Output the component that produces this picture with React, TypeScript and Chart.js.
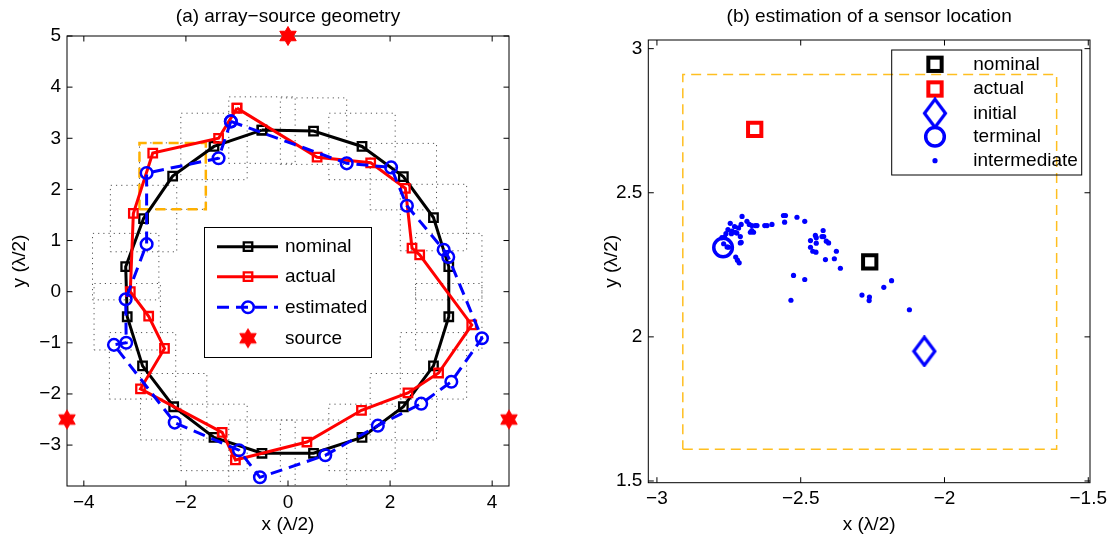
import React, { useEffect, useRef } from 'react';
import { Chart, registerables } from 'chart.js';
Chart.register(...registerables);

const FONT = '"Liberation Sans", Arial, Helvetica, sans-serif';
const FS = 19;

// ---------------- panel (a): array-source geometry ----------------
const titleA = '(a) array−source geometry';
const nominalX = [-0.51, 0.50, 1.45, 2.26, 2.85, 3.15, 3.15, 2.85, 2.26, 1.45, 0.50, -0.51, -1.45, -2.24, -2.85, -3.15, -3.18, -2.83, -2.26, -1.45];
const nominalY = [3.16, 3.14, 2.84, 2.25, 1.45, 0.49, -0.49, -1.45, -2.25, -2.85, -3.16, -3.16, -2.85, -2.25, -1.45, -0.49, 0.49, 1.43, 2.26, 2.84];
const actualX = [-1.00, 0.57, 1.62, 2.30, 2.43, 2.58, 3.60, 2.95, 2.35, 1.44, 0.37, -1.03, -1.29, -2.89, -2.42, -2.73, -3.09, -3.03, -2.65, -1.36];
const actualY = [3.59, 2.63, 2.52, 2.02, 0.85, 0.72, -0.65, -1.59, -1.98, -2.32, -2.94, -3.29, -2.75, -1.90, -1.11, -0.48, 0.00, 1.53, 2.71, 3.00];
const estX = [-1.12, 1.15, 2.02, 2.33, 3.05, 3.14, 3.80, 3.20, 2.61, 1.76, 0.73, -0.55, -0.96, -2.22, -3.41, -3.17, -3.18, -2.77, -2.77, -1.36];
const estY = [3.33, 2.51, 2.43, 1.68, 0.82, 0.68, -0.91, -1.76, -2.19, -2.62, -3.20, -3.63, -3.10, -2.56, -1.04, -1.00, -0.15, 0.93, 2.32, 2.61];
const sourceX = [0, -4.33, 4.33];
const sourceY = [5, -2.5, -2.5];
const searchHalfWidth = 0.65;
const highlightIndex = 18;
const xTicksA = [-4, -2, 0, 2, 4];
const yTicksA = [-3, -2, -1, 0, 1, 2, 3, 4, 5];
const xRangeA = [-4.33, 4.33];
const yRangeA = [-3.8, 5];
const legendA = ['nominal', 'actual', 'estimated', 'source'];

// ---------------- panel (b): estimation of a sensor location ----------------
const titleB = '(b) estimation of a sensor location';
const bNominalX = [-2.26];
const bNominalY = [2.26];
const bActualX = [-2.66];
const bActualY = [2.72];
const bInitialX = [-2.07];
const bInitialY = [1.95];
const bTerminalX = [-2.77];
const bTerminalY = [2.31];
const interX = [-2.704, -2.745, -2.730, -2.716, -2.707, -2.687, -2.679, -2.670, -2.658, -2.652, -2.625, -2.617, -2.600, -2.560, -2.553, -2.556, -2.513, -2.486, -2.753, -2.760, -2.765, -2.741, -2.722, -2.710, -2.707, -2.670, -2.664, -2.768, -2.756, -2.726, -2.720, -2.714, -2.774, -2.751, -2.739, -2.728, -2.710, -2.675,
  -2.422, -2.449, -2.446, -2.426, -2.420, -2.466, -2.446, -2.411, -2.403, -2.466, -2.458, -2.447, -2.376, -2.414, -2.383, -2.362, -2.525, -2.486, -2.534, -2.287, -2.261, -2.262, -2.211, -2.184, -2.122];
const interY = [2.418, 2.394, 2.383, 2.378, 2.390, 2.401, 2.390, 2.386, 2.386, 2.386, 2.386, 2.386, 2.390, 2.421, 2.421, 2.398, 2.415, 2.401, 2.372, 2.358, 2.346, 2.358, 2.360, 2.348, 2.328, 2.369, 2.363, 2.323, 2.312, 2.277, 2.266, 2.257, 2.344, 2.311, 2.367, 2.363, 2.326, 2.363,
  2.369, 2.352, 2.344, 2.348, 2.348, 2.334, 2.325, 2.332, 2.326, 2.311, 2.297, 2.294, 2.297, 2.268, 2.271, 2.238, 2.213, 2.199, 2.127, 2.145, 2.138, 2.126, 2.172, 2.195, 2.094];
const xTicksB = [-3, -2.5, -2, -1.5];
const yTicksB = [1.5, 2, 2.5, 3];
const xRangeB = [-3.03, -1.494];
const yRangeB = [1.494, 3.03];
const legendB = ['nominal', 'actual', 'initial', 'terminal', 'intermediate'];

const xAxisLabel = 'x (λ/2)';
const yAxisLabel = 'y (λ/2)';

const BLUE = '#0000ff';
const RED = '#ff0000';
const ORANGE = '#ffb000';
const ORANGE_B = '#ffbf20';

// ---------------- helpers ----------------
const pts = (xs: number[], ys: number[]) => xs.map((x, i) => ({ x, y: ys[i] }));
const closed = (xs: number[], ys: number[]) => pts(xs.concat(xs[0]), ys.concat(ys[0]));
const boxAround = (cx: number, cy: number, h: number) => [
  { x: cx - h, y: cy - h }, { x: cx + h, y: cy - h }, { x: cx + h, y: cy + h }, { x: cx - h, y: cy + h }, { x: cx - h, y: cy - h },
];
const fmt = (v: any) => String(v).replace('-', '−');

function makeStar() {
  const c = document.createElement('canvas');
  c.width = 22; c.height = 22;
  const g = c.getContext('2d')!;
  const R = 9.5, r = R / Math.sqrt(3);
  g.beginPath();
  for (let i = 0; i < 12; i++) {
    const a = -Math.PI / 2 + (i * Math.PI) / 6;
    const rr = i % 2 === 0 ? R : r;
    const px = 11 + rr * Math.cos(a), py = 11 + rr * Math.sin(a);
    if (i === 0) g.moveTo(px, py); else g.lineTo(px, py);
  }
  g.closePath();
  g.fillStyle = RED; g.fill();
  g.strokeStyle = RED; g.lineWidth = 1; g.stroke();
  return c;
}

function makeDiamond() {
  const c = document.createElement('canvas');
  c.width = 26; c.height = 32;
  const g = c.getContext('2d')!;
  g.beginPath();
  g.moveTo(13, 2); g.lineTo(23.5, 16); g.lineTo(13, 30); g.lineTo(2.5, 16); g.closePath();
  g.strokeStyle = BLUE; g.lineWidth = 3.2; g.lineJoin = 'miter'; g.stroke();
  return c;
}

function scaleOpts(xr: number[], yr: number[], xt: number[], yt: number[], yWidth: number, xHeight: number) {
  const tickFont = { family: FONT, size: FS };
  return {
    x: {
      type: 'linear', min: xr[0], max: xr[1],
      grid: { display: false, drawTicks: false }, border: { display: false },
      afterBuildTicks: (s: any) => { s.ticks = xt.map((v) => ({ value: v })); },
      afterFit: (s: any) => { s.height = xHeight; },
      ticks: { font: tickFont, color: '#000', padding: 5, maxRotation: 0, autoSkip: false, callback: (v: any) => fmt(v) },
    },
    y: {
      type: 'linear', min: yr[0], max: yr[1],
      grid: { display: false, drawTicks: false }, border: { display: false },
      afterBuildTicks: (s: any) => { s.ticks = yt.map((v) => ({ value: v })); },
      afterFit: (s: any) => { s.width = yWidth; },
      ticks: { font: tickFont, color: '#000', padding: 6, autoSkip: false, callback: (v: any) => fmt(v) },
    },
  };
}

function decor(title: string, yLabelX: number, drawLegend: (ctx: CanvasRenderingContext2D) => void) {
  return {
    id: 'decor',
    beforeDatasetsDraw(chart: any) {
      const ctx = chart.ctx;
      const { left, right, top, bottom } = chart.chartArea;
      const xs = chart.scales.x, ys = chart.scales.y;
      ctx.save();
      ctx.strokeStyle = '#000';
      ctx.lineWidth = 1;
      ctx.strokeRect(left, top, right - left, bottom - top);
      const tl = 5.5;
      ctx.beginPath();
      xs.ticks.forEach((t: any) => {
        const p = xs.getPixelForValue(t.value);
        ctx.moveTo(p, bottom); ctx.lineTo(p, bottom - tl);
        ctx.moveTo(p, top); ctx.lineTo(p, top + tl);
      });
      ys.ticks.forEach((t: any) => {
        const p = ys.getPixelForValue(t.value);
        ctx.moveTo(left, p); ctx.lineTo(left + tl, p);
        ctx.moveTo(right, p); ctx.lineTo(right - tl, p);
      });
      ctx.stroke();
      ctx.restore();
    },
    afterDraw(chart: any) {
      const ctx = chart.ctx;
      const { left, right, top, bottom } = chart.chartArea;
      ctx.save();
      ctx.fillStyle = '#000';
      ctx.font = `${FS}px ${FONT}`;
      ctx.textAlign = 'center';
      ctx.textBaseline = 'middle';
      ctx.fillText(title, (left + right) / 2, 17);
      ctx.fillText(xAxisLabel, (left + right) / 2, 525);
      ctx.translate(yLabelX, (top + bottom) / 2);
      ctx.rotate(-Math.PI / 2);
      ctx.fillText(yAxisLabel, 0, 0);
      ctx.restore();
      ctx.save();
      drawLegend(ctx);
      ctx.restore();
    },
  };
}

function legendText(ctx: CanvasRenderingContext2D, s: string, x: number, y: number) {
  ctx.fillStyle = '#000';
  ctx.font = `${FS}px ${FONT}`;
  ctx.textAlign = 'left';
  ctx.textBaseline = 'middle';
  ctx.fillText(s, x, y);
}

function configA(star: HTMLCanvasElement) {
  const rects = nominalX.map((cx, i) => ({
    data: boxAround(cx, nominalY[i], searchHalfWidth),
    showLine: true, borderColor: '#555', borderWidth: 1, borderDash: [1.2, 4], pointRadius: 0, order: 20,
  }));
  const datasets: any[] = [
    ...rects,
    {
      data: boxAround(nominalX[highlightIndex], nominalY[highlightIndex], searchHalfWidth),
      showLine: true, borderColor: ORANGE, borderWidth: 2.5, borderDash: [10, 6], pointRadius: 0, order: 10,
    },
    {
      label: legendA[0], data: closed(nominalX, nominalY), showLine: true, borderColor: '#000', borderWidth: 3,
      pointStyle: 'rect', pointRadius: 6, pointBorderWidth: 2.3, pointBorderColor: '#000', pointBackgroundColor: 'rgba(0,0,0,0)', order: 4,
    },
    {
      label: legendA[1], data: closed(actualX, actualY), showLine: true, borderColor: RED, borderWidth: 3,
      pointStyle: 'rect', pointRadius: 6, pointBorderWidth: 2.3, pointBorderColor: RED, pointBackgroundColor: 'rgba(0,0,0,0)', order: 3,
    },
    {
      label: legendA[2], data: closed(estX, estY), showLine: true, borderColor: BLUE, borderWidth: 3, borderDash: [12, 7],
      pointStyle: 'circle', pointRadius: 5.8, pointBorderWidth: 2.5, pointBorderColor: BLUE, pointBackgroundColor: 'rgba(0,0,0,0)', order: 2,
    },
    {
      label: legendA[3], data: pts(sourceX, sourceY), showLine: false, pointStyle: star, pointRadius: 10, clip: false, order: 1,
    },
  ];
  const drawLegend = (ctx: CanvasRenderingContext2D) => {
    const bx = 204, by = 227, bw = 167, bh = 130;
    ctx.fillStyle = '#fff';
    ctx.fillRect(bx, by, bw, bh);
    ctx.strokeStyle = '#000';
    ctx.lineWidth = 1;
    ctx.strokeRect(bx + 0.5, by + 0.5, bw, bh);
    const rows = [246.7, 276.7, 307.3, 338.3];
    const x0 = 217, x1 = 278, xm = 248, tx = 285;
    const colors = ['#000', RED, BLUE];
    for (let i = 0; i < 3; i++) {
      const y = rows[i];
      ctx.save();
      ctx.strokeStyle = colors[i];
      ctx.lineWidth = 3;
      if (i === 2) ctx.setLineDash([12, 7]);
      ctx.beginPath(); ctx.moveTo(x0, y); ctx.lineTo(x1, y); ctx.stroke();
      ctx.setLineDash([]);
      ctx.lineWidth = i === 2 ? 2.5 : 2.3;
      ctx.beginPath();
      if (i === 2) ctx.arc(xm, y, 5.8, 0, Math.PI * 2);
      else ctx.rect(xm - 4.25, y - 4.25, 8.5, 8.5);
      ctx.stroke();
      ctx.restore();
      legendText(ctx, legendA[i], tx, y);
    }
    ctx.drawImage(star, xm - 11, rows[3] - 11);
    legendText(ctx, legendA[3], tx, rows[3]);
  };
  return {
    type: 'scatter',
    data: { datasets },
    options: {
      responsive: false, animation: false, events: [],
      layout: { padding: { left: 0, top: 36, right: 47, bottom: 0 } },
      plugins: { legend: { display: false }, tooltip: { enabled: false }, title: { display: false } },
      elements: { line: { tension: 0 } },
      scales: scaleOpts(xRangeA, yRangeA, xTicksA, yTicksA, 67, 54),
    },
    plugins: [decor(titleA, 20, drawLegend)],
  } as any;
}

function configB(diamond: HTMLCanvasElement) {
  const datasets: any[] = [
    {
      data: boxAround(bNominalX[0], bNominalY[0], searchHalfWidth),
      showLine: true, borderColor: ORANGE_B, borderWidth: 1.5, borderDash: [10, 6], pointRadius: 0, order: 10,
    },
    {
      label: legendB[4], data: pts(interX, interY), showLine: false, pointStyle: 'circle', pointRadius: 2.6,
      pointBorderWidth: 0, pointBackgroundColor: BLUE, order: 5,
    },
    {
      label: legendB[3], data: pts(bTerminalX, bTerminalY), showLine: false, pointStyle: 'circle', pointRadius: 9.3,
      pointBorderWidth: 3.5, pointBorderColor: BLUE, pointBackgroundColor: 'rgba(0,0,0,0)', order: 4,
    },
    {
      label: legendB[2], data: pts(bInitialX, bInitialY), showLine: false, pointStyle: diamond, pointRadius: 12, order: 3,
    },
    {
      label: legendB[1], data: pts(bActualX, bActualY), showLine: false, pointStyle: 'rect', pointRadius: 9.4,
      pointBorderWidth: 4, pointBorderColor: RED, pointBackgroundColor: 'rgba(0,0,0,0)', order: 2,
    },
    {
      label: legendB[0], data: pts(bNominalX, bNominalY), showLine: false, pointStyle: 'rect', pointRadius: 9.4,
      pointBorderWidth: 4, pointBorderColor: '#000', pointBackgroundColor: 'rgba(0,0,0,0)', order: 1,
    },
  ];
  const drawLegend = (ctx: CanvasRenderingContext2D) => {
    const bx = 335.7, by = 50, bw = 190, bh = 125;
    ctx.strokeStyle = '#000';
    ctx.lineWidth = 1;
    ctx.strokeRect(bx, by, bw, bh);
    const rows = [64.3, 89, 113.3, 136.7, 160.7];
    const xm = 379, tx = 417.3;
    ctx.lineWidth = 4;
    ctx.strokeStyle = '#000';
    ctx.strokeRect(xm - 6.65, rows[0] - 6.65, 13.3, 13.3);
    ctx.strokeStyle = RED;
    ctx.strokeRect(xm - 6.65, rows[1] - 6.65, 13.3, 13.3);
    ctx.drawImage(diamond, xm - 13, rows[2] - 16);
    ctx.strokeStyle = BLUE;
    ctx.lineWidth = 3.5;
    ctx.beginPath(); ctx.arc(xm, rows[3], 9.3, 0, Math.PI * 2); ctx.stroke();
    ctx.fillStyle = BLUE;
    ctx.beginPath(); ctx.arc(xm, rows[4], 2.6, 0, Math.PI * 2); ctx.fill();
    legendB.forEach((s, i) => legendText(ctx, s, tx, rows[i]));
  };
  return {
    type: 'scatter',
    data: { datasets },
    options: {
      responsive: false, animation: false, events: [],
      layout: { padding: { left: 0, top: 40, right: 23, bottom: 0 } },
      plugins: { legend: { display: false }, tooltip: { enabled: false }, title: { display: false } },
      scales: scaleOpts(xRangeB, yRangeB, xTicksB, yTicksB, 92.3, 57.3),
    },
    plugins: [decor(titleB, 56, drawLegend)],
  } as any;
}

export default function App() {
  const refA = useRef<HTMLCanvasElement>(null);
  const refB = useRef<HTMLCanvasElement>(null);
  useEffect(() => {
    Chart.defaults.font.family = FONT;
    const star = makeStar();
    const diamond = makeDiamond();
    const a = new Chart(refA.current!, configA(star));
    const b = new Chart(refB.current!, configB(diamond));
    return () => { a.destroy(); b.destroy(); };
  }, []);
  return (
    <div style={{ position: 'absolute', left: 0, top: 0, width: 1113, height: 540, background: '#fff' }}>
      <canvas ref={refA} width={556} height={540} style={{ position: 'absolute', left: 0, top: 0 }} />
      <canvas ref={refB} width={557} height={540} style={{ position: 'absolute', left: 556, top: 0 }} />
    </div>
  );
}
